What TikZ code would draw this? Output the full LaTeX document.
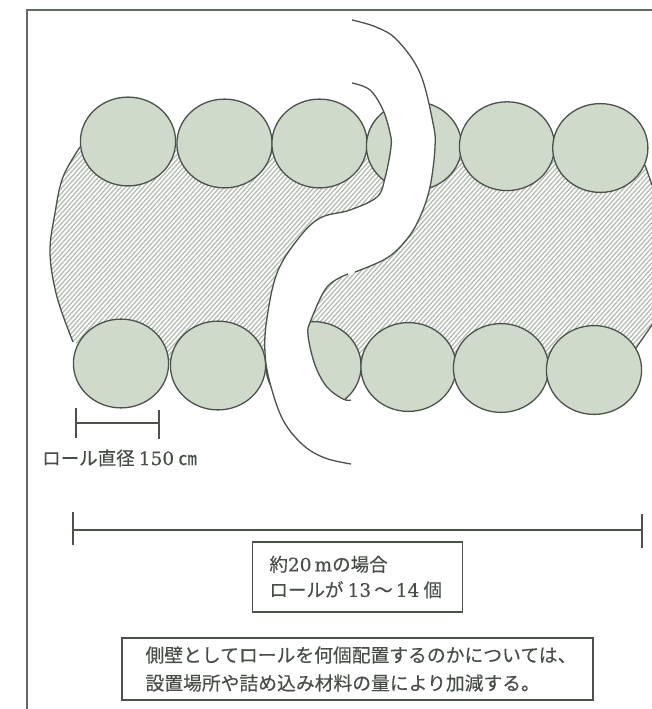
\documentclass[tikz,border=0pt]{standalone}
\usepackage{fontspec}
\setmainfont[FakeBold=0.25]{Noto Sans CJK JP}
\newfontfamily\digitfont[FakeBold=0.3]{DejaVu Serif}
\newcommand{\dg}[1]{{\digitfont\fontsize{18.5}{18.5}\selectfont #1}}
\definecolor{ink}{HTML}{4A524A}
\definecolor{frameink}{HTML}{626A62}
\definecolor{rollfill}{HTML}{CFDACB}
\definecolor{hatchink}{HTML}{B3BCB0}
\definecolor{textink}{HTML}{474D47}
\tikzset{
  x=1pt,y=-1pt,
  roll/.style={draw=ink,fill=rollfill,line width=1.3pt},
  edgeline/.style={draw=ink,line width=1.3pt},
  hatchline/.style={draw=hatchink,line width=1.25pt},
  framerule/.style={draw=frameink,line width=1.3pt},
  dimline/.style={draw=ink,line width=1.2pt},
  notebox/.style={draw=ink,line width=1.2pt,fill=white,inner sep=0pt,outer sep=0pt,align=left,text=textink},
  caption/.style={text=textink,inner sep=0pt,font=\fontsize{18.5}{22}\selectfont},
}
\newcommand{\hatchlines}{%
  \foreach \a in {0,4.5,...,1200} {\draw[hatchline] (\a,0) -- (\a-500,560);}%
}
\newcommand{\rolls}[2]{\path[roll] (#1,#2) ellipse [x radius=47.6,y radius=44.4];}
\begin{document}
\begin{tikzpicture}
\useasboundingbox (0,0) rectangle (652,709);
\fill[white] (0,0) rectangle (652,709);
% frame
\coordinate (fa) at (652,10);
\coordinate (fb) at (27,10);
\coordinate (fc) at (27,709);
\draw[framerule] (fa) -- (fb) -- (fc);
% hatched left bank
\begin{scope}
\clip plot[smooth,tension=0.6] coordinates {(80,147) (63,177) (55,213) (50,253) (57,297) (73,342)}
  -- (120,363) -- (218,365) -- (265,350)
  -- plot[smooth,tension=0.6] coordinates {(266,320) (277,273) (298,239) (320,218) (350,210) (377,197) (385,178)}
  -- (380,150) -- (320,143) -- (224,143) -- (128,141) -- cycle;
\hatchlines
\end{scope}
% hatched right bank
\begin{scope}
\clip plot[smooth,tension=0.6] coordinates {(430,187) (420,217) (407,239) (387,258) (355,272) (327,287) (311,320)}
  -- (313,366) -- (408,367) -- (501,368) -- (594,370) -- (633,350) -- (652,325) -- (652,183) -- (645,167)
  -- (600,148) -- (507,146) -- (414,146) -- cycle;
\hatchlines
\end{scope}
% rolls
\rolls{128}{141.5}
\rolls{224.5}{143.5}
\rolls{319.5}{143.5}
\rolls{414}{146}
\rolls{507}{146.2}
\rolls{600.3}{148}
\rolls{121}{363.5}
\rolls{218}{365.5}
\rolls{313.5}{366}
\rolls{408.5}{367}
\rolls{501}{368}
\rolls{594}{370}
% river
\fill[white] plot[smooth,tension=0.6] coordinates {(352,20) (376,27) (397,40) (420,73) (433,123) (435,147) (430,187) (420,217) (407,239) (387,258) (355,272) (327,287) (311,320) (308,335) (315,365) (327,387) (343,399) (351,400)}
  -- plot[smooth,tension=0.6] coordinates {(351,464) (325,458) (303,445) (283,420) (270,383) (265,353) (266.7,320) (277,273) (298,239) (320,218) (350,210) (377,197) (385,178) (391,147) (390,133) (383,110) (370,90) (352,83)} -- cycle;
% river banks
\draw[edgeline] plot[smooth,tension=0.6] coordinates {(352,20) (376,27) (397,40) (420,73) (433,123) (435,147) (430,187) (420,217) (407,239) (387,258) (355,272)};
\draw[edgeline] plot[smooth,tension=0.6] coordinates {(348,274) (327,287) (311,320) (308,335) (315,365) (327,387) (343,399) (351,400)};
\draw[edgeline] plot[smooth,tension=0.6] coordinates {(351,464) (325,458) (303,445) (283,420) (270,383) (265,353) (266.7,320) (277,273) (298,239) (320,218) (350,210) (377,197) (385,178) (391,147) (390,133) (383,110) (370,90) (352,83)};
% outer edges of the fill
\draw[edgeline] plot[smooth,tension=0.6] coordinates {(80,147) (63,177) (55,213) (50,253) (57,297) (73,342)};
\draw[edgeline] (645,165) -- (652,185);
\draw[edgeline] (652,325) -- (636,348);
% short dimension
\coordinate (sa) at (76,423);
\coordinate (sb) at (159,423);
\coordinate (sat) at (76,408);
\coordinate (sab) at (76,438);
\coordinate (sbt) at (159,410);
\coordinate (sbb) at (159,439);
\draw[dimline] (sa) -- (sb);
\draw[dimline] (sat) -- (sab);
\draw[dimline] (sbt) -- (sbb);
\node[caption,anchor=west] (rolllabel) at (42,458) {ロール直径 \dg{150} ㎝};
% long dimension
\coordinate (la) at (73,530);
\coordinate (lb) at (642,530);
\coordinate (lat) at (73,512);
\coordinate (lab) at (73,545);
\coordinate (lbt) at (642,514);
\coordinate (lbb) at (642,548);
\draw[dimline] (la) -- (lb);
\draw[dimline] (lat) -- (lab);
\draw[dimline] (lbt) -- (lbb);
% notes
\node[notebox,minimum width=210pt,minimum height=70pt,font=\fontsize{18.5}{25.5}\selectfont] (countbox) at (357.5,577) {\raisebox{-3pt}{\parbox{176pt}{約\dg{20\,m}の場合\\ロールが \dg{13}\,〜\,\dg{14} 個}}};
\node[notebox,minimum width=471pt,minimum height=62pt,font=\fontsize{18.8}{28}\selectfont] (notebox) at (357.5,669) {\raisebox{-2pt}{\parbox{424pt}{\hspace*{0pt}側壁としてロールを何個配置するのかについては、\\設置場所や詰め込み材料の量により加減する。}}};
\end{tikzpicture}
\end{document}
